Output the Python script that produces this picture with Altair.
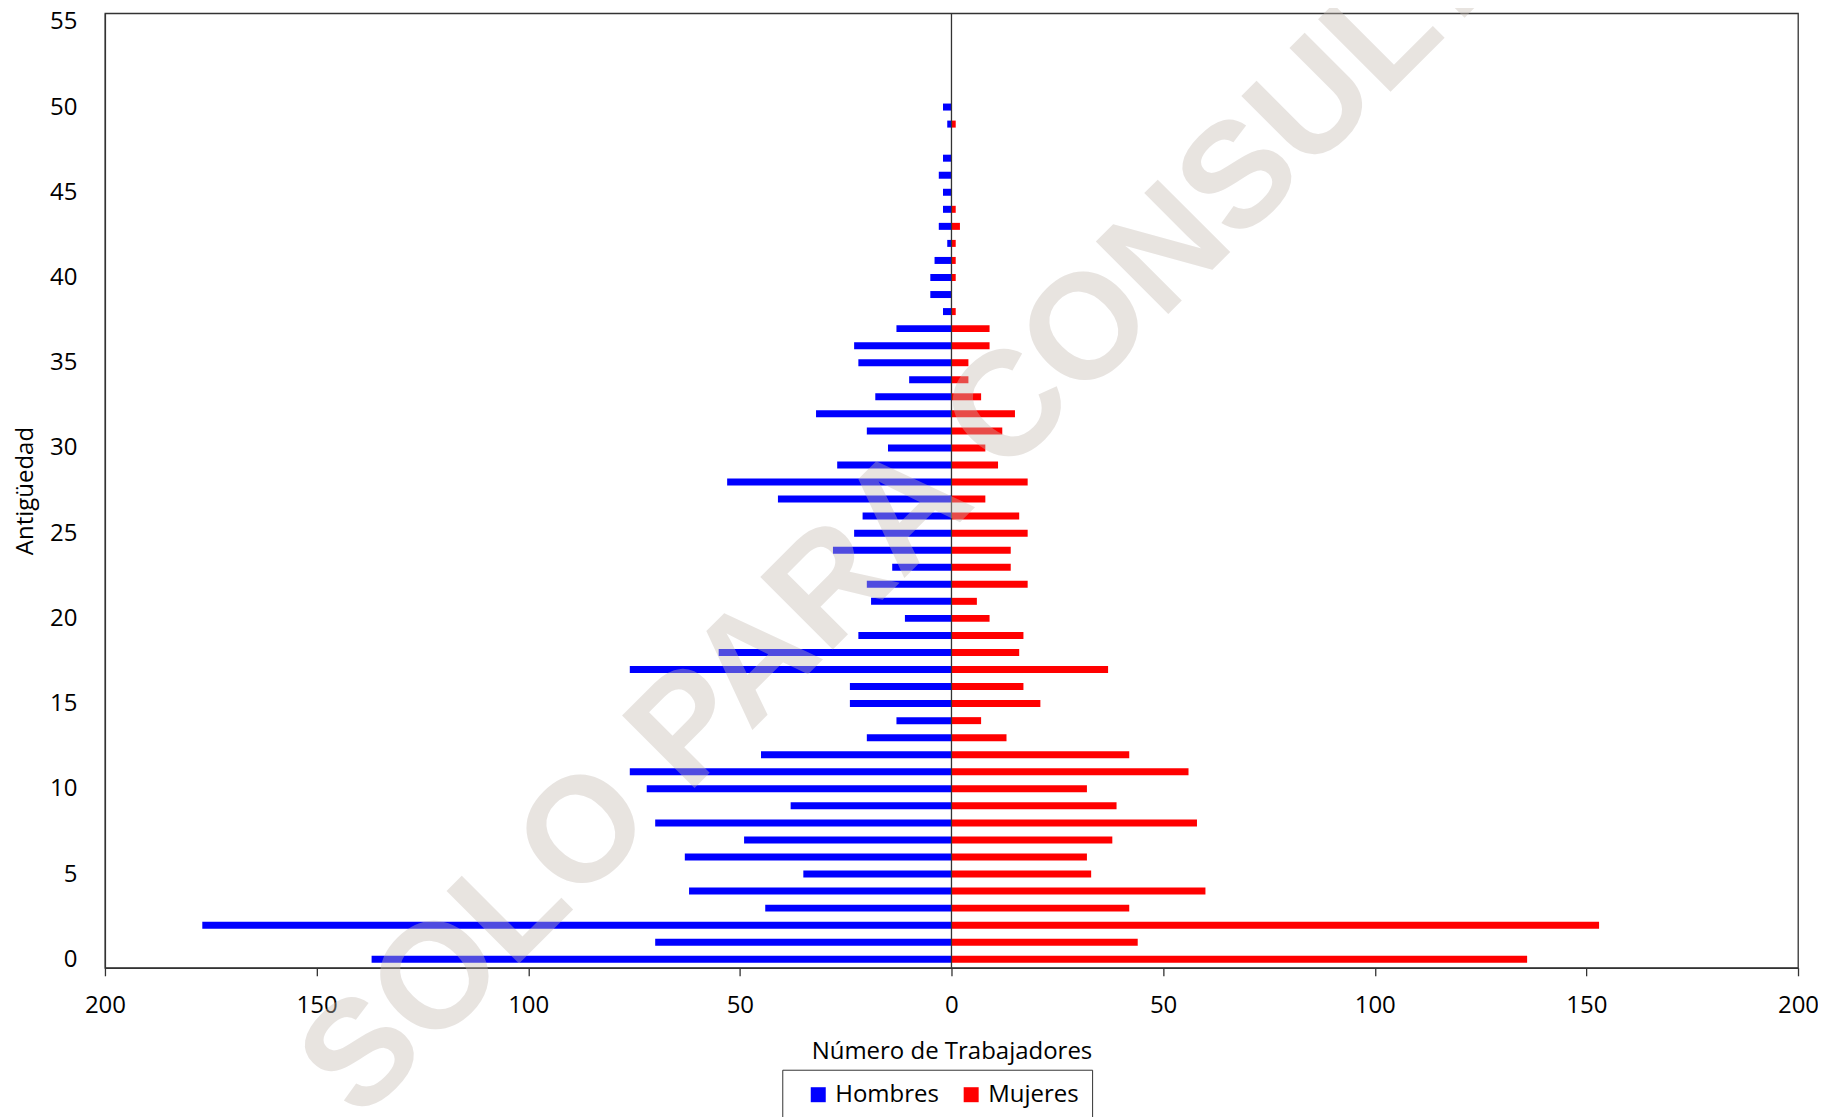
import altair as alt
import pandas as pd

antiguedad = list(range(0, 51))
hombres = [137, 70, 177, 44, 62, 35, 63, 49, 70, 38,
           72, 76, 45, 20, 13, 24, 24, 76, 55, 22,
           11, 19, 20, 14, 28, 23, 21, 41, 53, 27,
           15, 20, 32, 18, 10, 22, 23, 13, 2, 5,
           5, 4, 1, 3, 2, 2, 3, 2, 0, 1, 2]
mujeres = [136, 44, 153, 42, 60, 33, 32, 38, 58, 39,
           32, 56, 42, 13, 7, 21, 17, 37, 16, 17,
           9, 6, 18, 14, 14, 18, 16, 8, 18, 11,
           8, 12, 15, 7, 4, 4, 9, 9, 1, 0,
           1, 1, 1, 2, 1, 0, 0, 0, 0, 1, 0]
series = ["Hombres", "Mujeres"]
colores = ["#0000FF", "#FF0000"]
x_ticks = [-200, -150, -100, -50, 0, 50, 100, 150, 200]
y_ticks = [0, 5, 10, 15, 20, 25, 30, 35, 40, 45, 50, 55]
marca_agua = ["SOLO PARA CONSULTA"]

rows = []
for a, h, m in zip(antiguedad, hombres, mujeres):
    if h:
        rows.append({"Antigüedad": a, "Sexo": "Hombres", "valor": -h})
    if m:
        rows.append({"Antigüedad": a, "Sexo": "Mujeres", "valor": m})
df = pd.DataFrame(rows)

FONT = "Open Sans"

x_enc = alt.X(
    "valor:Q",
    scale=alt.Scale(domain=[-200, 200], nice=False, zero=False, padding=0),
    axis=alt.Axis(
        values=x_ticks, labelExpr="abs(datum.value)", grid=False,
        labelFlush=False, labelOverlap=False,
        title="Número de Trabajadores", titleFont=FONT, titleFontSize=24,
        titleFontWeight="normal", titleColor="black", titleY=83.6,
        titleBaseline="middle",
        labelFont=FONT, labelFontSize=24, labelColor="black",
        labelPadding=18, tickSize=8, tickColor="#333", tickWidth=1.3,
        domainColor="#333", domainWidth=1.3,
    ),
)
y_enc = alt.Y(
    "Antigüedad:Q",
    scale=alt.Scale(domain=[-0.5, 55.5], nice=False, zero=False, padding=0),
    axis=alt.Axis(
        values=y_ticks, grid=False, ticks=False,
        labelFlush=False, labelOverlap=False,
        title="Antigüedad", titleFont=FONT, titleFontSize=24,
        titleFontWeight="normal", titleColor="black",
        titleAngle=270, titleX=-72, titleY=477.5, titleAlign="center",
        titleBaseline="alphabetic",
        labelFont=FONT, labelFontSize=24, labelColor="black",
        labelPadding=28, domainColor="#333", domainWidth=1.3,
    ),
)

bars = alt.Chart(df).mark_bar(size=7).encode(
    x=x_enc,
    x2=alt.datum(0),
    y=y_enc,
    color=alt.Color(
        "Sexo:N",
        scale=alt.Scale(domain=series, range=colores),
        legend=alt.Legend(
            orient="none", legendX=677.7, legendY=1057,
            direction="horizontal", title=None,
            strokeColor="#333", fillColor="white", padding=13,
            symbolType="square", symbolSize=225, symbolStrokeWidth=0,
            symbolOpacity=1,
            labelFont=FONT, labelFontSize=24, labelColor="black",
            labelOffset=5, symbolOffset=11, columnPadding=9,
        ),
    ),
)

zero_line = alt.Chart(pd.DataFrame({"z": [0]})).mark_rule(
    color="#333", strokeWidth=1.3
).encode(x=alt.X("z:Q"))

watermark = alt.Chart(pd.DataFrame({"t": marca_agua})).mark_text(
    font="Liberation Sans", fontWeight="bold", fontSize=149,
    angle=315, align="center", baseline="alphabetic",
    color="#c6bcb4", opacity=0.4,
).encode(
    text="t:N",
    x=alt.value(861.7),
    y=alt.value(503.1),
)

chart = alt.layer(bars, zero_line, watermark).properties(
    width=1694,
    height=955,
    autosize=alt.AutoSizeParams(type="none"),
    padding={"left": 97, "top": 5, "right": 20, "bottom": 160},
).configure_view(
    stroke="#333", strokeWidth=1.3
)

chart.save("out.html", embed_options={"renderer": "svg", "actions": False})
